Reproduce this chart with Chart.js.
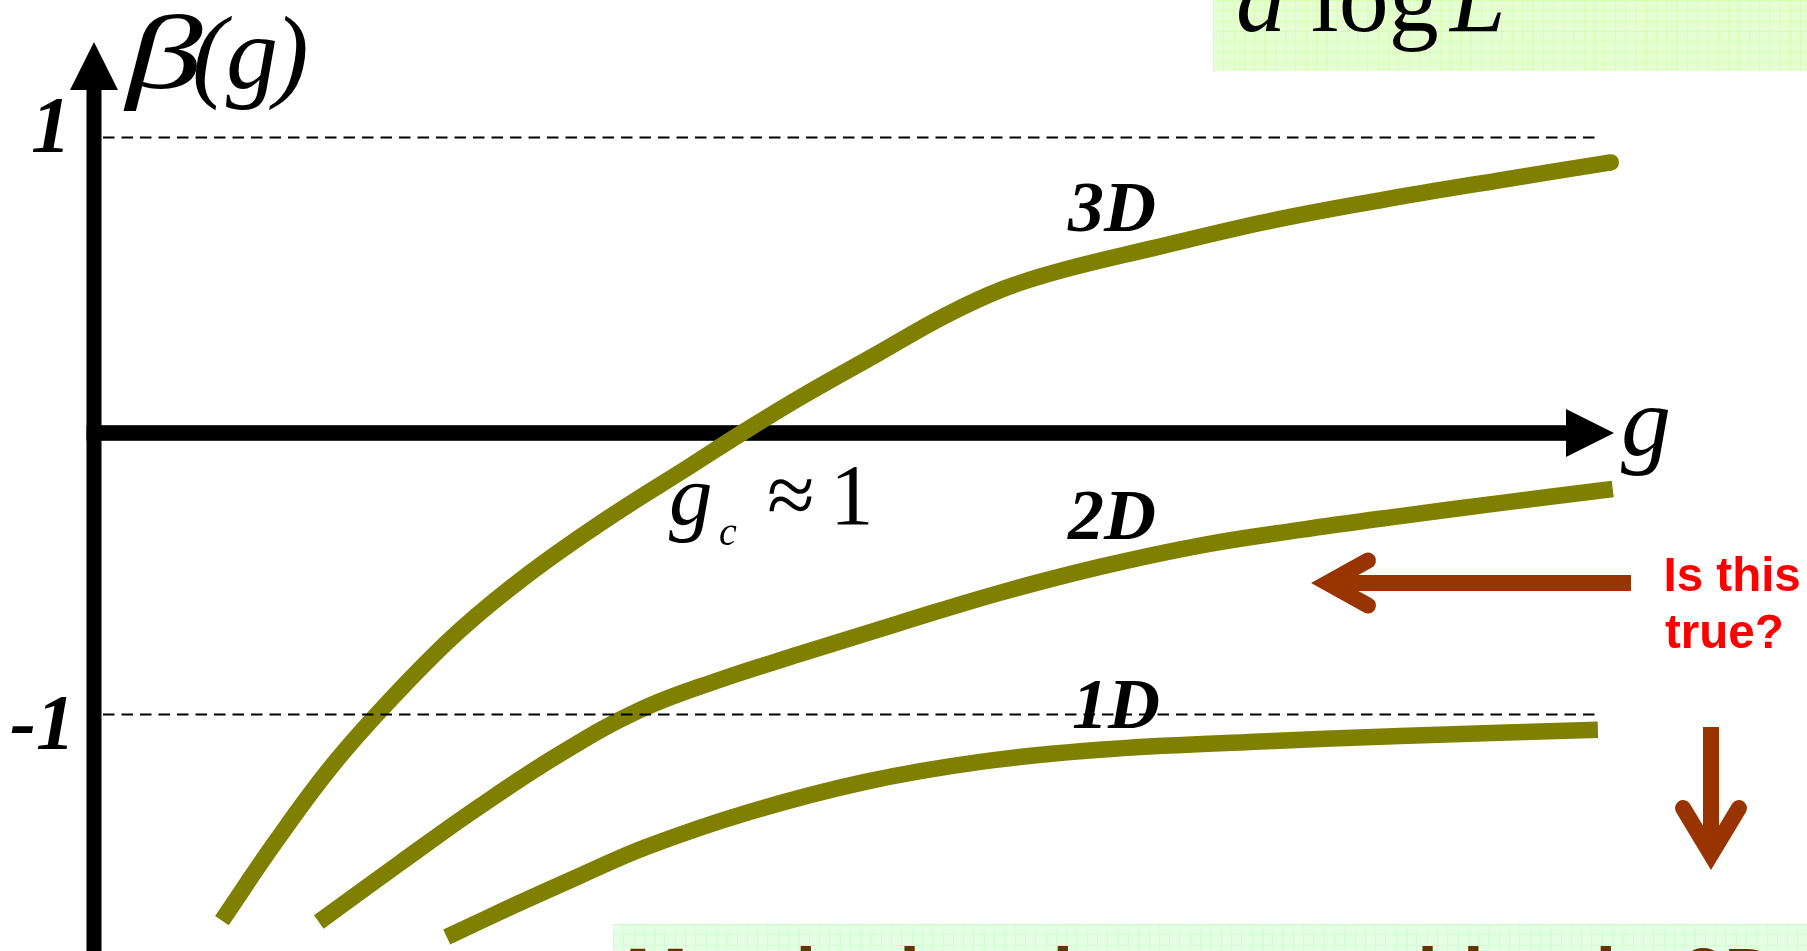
<!DOCTYPE html>
<html><head><meta charset="utf-8">
<script src="https://cdn.jsdelivr.net/npm/chart.js@4/dist/chart.umd.min.js"></script>
<style>html,body{margin:0;padding:0;background:#fff;overflow:hidden}canvas{display:block}</style>
</head><body>
<canvas id="c" width="1807" height="951"></canvas>
<script>
// ---- data (g = coupling, beta = beta(g)) ----
const g3D    = [0.198, 0.283, 0.372, 0.471, 0.568, 0.675, 0.800, 0.924, 1.005, 1.104, 1.211, 1.317, 1.407, 1.495, 1.638, 1.817, 1.995, 2.173, 2.348];
const beta3D = [-1.716, -1.437, -1.170, -0.922, -0.707, -0.511, -0.315, -0.139, -0.023, 0.111, 0.246, 0.380, 0.473, 0.536, 0.614, 0.707, 0.782, 0.849, 0.912];
const g2D    = [0.348, 0.474, 0.598, 0.721, 0.845, 0.969, 1.093, 1.248, 1.402, 1.557, 1.712, 1.867, 2.022, 2.176, 2.351];
const beta2D = [-1.721, -1.516, -1.319, -1.139, -0.986, -0.881, -0.792, -0.684, -0.580, -0.490, -0.416, -0.362, -0.314, -0.269, -0.220];
const g1D    = [0.546, 0.649, 0.752, 0.856, 1.014, 1.192, 1.372, 1.557, 1.789, 2.022, 2.328];
const beta1D = [-1.773, -1.665, -1.561, -1.460, -1.340, -1.236, -1.166, -1.124, -1.097, -1.076, -1.055];
const seriesNames = ['3D', '2D', '1D'];
const refLevels = [1, -1];
const refLabels = ['1', '-1'];
const gAxisBeta = -0.026;

const SERIF = '"Liberation Serif", "Times New Roman", serif';
const SANS = '"Liberation Sans", Arial, sans-serif';
const OLIVE = '#808000';
const BROWN = '#993300';
const LINE_W = 16.5;

function pts(xs, ys) { return xs.map((x, i) => ({ x: x, y: ys[i] })); }

function gridBox(ctx, x, y, w, h, fill, line) {
  ctx.save();
  ctx.fillStyle = fill; ctx.fillRect(x, y, w, h);
  ctx.beginPath(); ctx.rect(x, y, w, h); ctx.clip();
  ctx.strokeStyle = line; ctx.lineWidth = 1;
  ctx.beginPath();
  for (let gx = x; gx < x + w; gx += 10.3) { const p = Math.round(gx) + 0.5; ctx.moveTo(p, y); ctx.lineTo(p, y + h); }
  for (let gy = y; gy < y + h; gy += 10.3) { const p = Math.round(gy) + 0.5; ctx.moveTo(x, p); ctx.lineTo(x + w, p); }
  ctx.stroke();
  ctx.restore();
}

function chevron(ctx, p, w) {
  ctx.save();
  ctx.strokeStyle = BROWN; ctx.lineWidth = w; ctx.lineCap = 'round'; ctx.lineJoin = 'miter'; ctx.miterLimit = 10;
  ctx.beginPath(); ctx.moveTo(p[0][0], p[0][1]); ctx.lineTo(p[1][0], p[1][1]); ctx.lineTo(p[2][0], p[2][1]); ctx.stroke();
  ctx.restore();
}

const decor = {
  id: 'decor',
  beforeDatasetsDraw(chart) {
    const ctx = chart.ctx, xs = chart.scales.x, ys = chart.scales.y;
    ctx.save();
    // top formula box
    gridBox(ctx, 1213, 0, 594, 71, '#e6ffd2', '#d6ffb4');
    ctx.fillStyle = '#000'; ctx.textBaseline = 'alphabetic';
    ctx.font = 'italic 100px ' + SERIF; ctx.fillText('d', 1236, 31);
    ctx.font = '100px ' + SERIF; ctx.fillText('log', 1311, 31);
    ctx.font = 'italic 100px ' + SERIF; ctx.fillText('L', 1450, 31);
    // bottom box
    gridBox(ctx, 613, 924, 1194, 27, '#e4ffe4', '#cfffcf');
    ctx.fillStyle = '#663300'; ctx.font = 'bold 74.6px ' + SANS;
    ctx.fillText('Metal \u2013 insulator transition in 2D', 625.6, 999.5);
    // axes
    const x0 = xs.getPixelForValue(0);
    const yA = ys.getPixelForValue(gAxisBeta);
    ctx.fillStyle = '#000';
    ctx.fillRect(x0 - 7.5, 86, 15, 951 - 86);
    ctx.beginPath(); ctx.moveTo(x0, 42); ctx.lineTo(x0 - 24, 90); ctx.lineTo(x0 + 24, 90); ctx.closePath(); ctx.fill();
    ctx.fillRect(x0 - 7.5, yA - 7.8, 1568 - (x0 - 7.5), 15.6);
    ctx.beginPath(); ctx.moveTo(1566, yA - 24); ctx.lineTo(1614, yA); ctx.lineTo(1566, yA + 24); ctx.closePath(); ctx.fill();
    // beta(g) label
    ctx.save();
    ctx.translate(126, 88); ctx.scale(1.45, 1);
    ctx.font = 'italic 106px ' + SERIF; ctx.fillText('\u03b2', 0, 0);
    ctx.restore();
    ctx.font = 'italic 104px ' + SERIF;
    ctx.fillText('(', 192, 88);
    ctx.fillText('g', 226, 88);
    ctx.fillText(')', 274, 88);
    // ref level labels
    ctx.font = 'italic bold 80px ' + SERIF;
    ctx.fillText(refLabels[0], 31, ys.getPixelForValue(refLevels[0]) + 15);
    ctx.font = 'italic bold 78px ' + SERIF;
    ctx.fillText(refLabels[1], 10, ys.getPixelForValue(refLevels[1]) + 34);
    ctx.restore();
  },
  afterDatasetsDraw(chart) {
    const ctx = chart.ctx, xs = chart.scales.x, ys = chart.scales.y;
    ctx.save();
    // round end cap of the 3D curve
    const n = g3D.length - 1;
    ctx.fillStyle = OLIVE;
    ctx.beginPath();
    ctx.arc(xs.getPixelForValue(g3D[n]), ys.getPixelForValue(beta3D[n]), LINE_W / 2, 0, Math.PI * 2);
    ctx.fill();
    ctx.fillStyle = '#000';
    // curve labels
    ctx.font = 'italic bold 72px ' + SERIF;
    ctx.fillText(seriesNames[0], 1068, 231);
    ctx.fillText(seriesNames[1], 1068, 539);
    ctx.fillText(seriesNames[2], 1072, 728);
    // dashed reference lines
    ctx.strokeStyle = '#000'; ctx.lineWidth = 1.8; ctx.setLineDash([11.5, 7]);
    refLevels.forEach(v => {
      const y = Math.round(ys.getPixelForValue(v)) + 0.5;
      ctx.beginPath(); ctx.moveTo(103, y); ctx.lineTo(1599, y); ctx.stroke();
    });
    ctx.setLineDash([]);
    // g_c ≈ 1
    ctx.font = 'italic 87px ' + SERIF; ctx.fillText('g', 669, 524);
    ctx.font = 'italic 40px ' + SERIF; ctx.fillText('c', 719, 545);
    ctx.font = '87px ' + SERIF; ctx.fillText('\u2248', 767, 524);
    ctx.fillText('1', 830, 524);
    // g axis label
    ctx.font = 'italic 100px ' + SERIF; ctx.fillText('g', 1621, 455);
    // red arrows
    ctx.fillStyle = BROWN;
    ctx.fillRect(1327.5, 575, 1631 - 1327.5, 16);
    chevron(ctx, [[1368, 560.5], [1327.5, 583], [1368, 605.5]], 16);
    ctx.fillRect(1703, 727, 16, 854.5 - 727);
    chevron(ctx, [[1683, 808], [1711, 854.5], [1739, 808]], 16);
    // question text
    ctx.fillStyle = '#ff0000'; ctx.font = 'bold 47.5px ' + SANS;
    ctx.fillText('Is this', 1663.5, 591);
    ctx.fillText('true?', 1665, 648);
    ctx.restore();
  }
};

const lineDs = (label, data) => ({
  label: label, data: data, borderColor: OLIVE, borderWidth: LINE_W, pointRadius: 0,
  fill: false, tension: 0.4, borderCapStyle: 'butt', borderJoinStyle: 'round'
});

new Chart(document.getElementById('c'), {
  type: 'line',
  data: { datasets: [
    lineDs(seriesNames[0], pts(g3D, beta3D)),
    lineDs(seriesNames[1], pts(g2D, beta2D)),
    lineDs(seriesNames[2], pts(g1D, beta1D))
  ] },
  options: {
    responsive: false, animation: false, devicePixelRatio: 1,
    layout: { padding: 0 },
    plugins: { legend: { display: false }, tooltip: { enabled: false }, title: { display: false } },
    scales: {
      x: { type: 'linear', min: -0.14551, max: 2.65170, display: false },
      y: { type: 'linear', min: -1.82149, max: 1.47487, display: false }
    }
  },
  plugins: [decor]
});
</script>
</body></html>
